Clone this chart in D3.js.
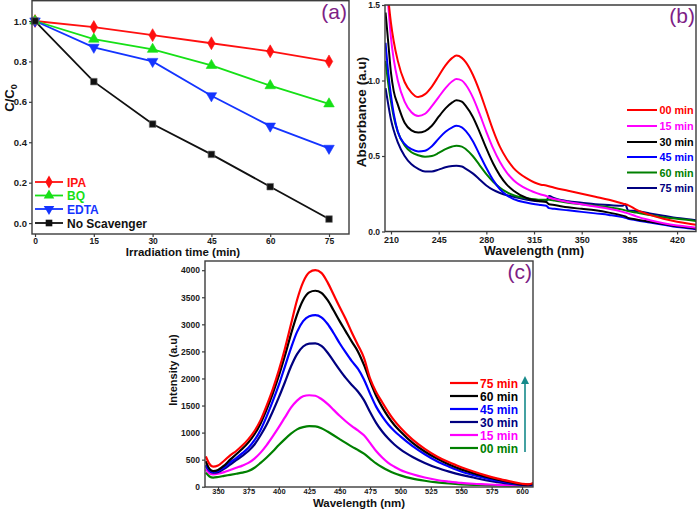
<!DOCTYPE html>
<html><head><meta charset="utf-8">
<script src="https://cdn.jsdelivr.net/npm/d3@7"></script>
<style>body{margin:0;background:#fff}svg{display:block}</style>
</head><body><svg id="chart" width="697" height="510"></svg>
<script>
// ---------- Panel (a) data ----------
const timeA = [0, 15, 30, 45, 60, 75];
const ipa = [1.0, 0.97, 0.93, 0.89, 0.85, 0.80];
const bq = [1.0, 0.91, 0.86, 0.78, 0.68, 0.59];
const edta = [1.0, 0.87, 0.80, 0.63, 0.48, 0.37];
const noScav = [1.0, 0.70, 0.49, 0.34, 0.18, 0.02];
const namesA = ["IPA", "BQ", "EDTA", "No Scavenger"];
const xTicksA = [0, 15, 30, 45, 60, 75];
const yTicksA = [0, 0.2, 0.4, 0.6, 0.8, 1.0];

// ---------- Panel (b) data ----------
const wlB = [206,208,210,212,215,220,225,230,235,240,245,250,255,258,262,265,270,275,280,285,290,295,300,310,320,324,326,330,340,350,360,370,380,382,384,390,400,410,420,430,434];
const abs00 = [1.80,1.55,1.38,1.26,1.13,0.99,0.92,0.89,0.91,0.96,1.03,1.10,1.15,1.165,1.15,1.12,1.04,0.93,0.80,0.67,0.56,0.48,0.42,0.35,0.31,0.305,0.30,0.29,0.27,0.25,0.23,0.21,0.185,0.18,0.175,0.145,0.11,0.085,0.065,0.05,0.045];
const abs15 = [1.75,1.50,1.28,1.14,1.00,0.86,0.79,0.765,0.78,0.83,0.89,0.95,0.995,1.01,1.00,0.97,0.89,0.78,0.66,0.55,0.46,0.39,0.34,0.28,0.245,0.235,0.225,0.215,0.195,0.18,0.165,0.15,0.13,0.125,0.12,0.10,0.075,0.055,0.04,0.03,0.025];
const abs30 = [1.45,1.25,1.05,0.93,0.84,0.72,0.67,0.655,0.665,0.70,0.76,0.815,0.855,0.87,0.86,0.83,0.76,0.66,0.55,0.45,0.37,0.31,0.27,0.22,0.20,0.195,0.18,0.175,0.16,0.15,0.14,0.125,0.105,0.10,0.09,0.08,0.065,0.05,0.035,0.025,0.02];
const abs45 = [1.25,1.05,0.90,0.78,0.66,0.58,0.545,0.53,0.535,0.565,0.615,0.66,0.69,0.70,0.69,0.665,0.60,0.51,0.42,0.34,0.28,0.24,0.215,0.19,0.175,0.17,0.155,0.15,0.14,0.13,0.12,0.11,0.095,0.09,0.085,0.075,0.06,0.045,0.03,0.02,0.015];
const abs60 = [1.13,0.98,0.86,0.76,0.66,0.57,0.525,0.505,0.495,0.50,0.52,0.545,0.563,0.568,0.562,0.545,0.50,0.44,0.38,0.33,0.29,0.26,0.24,0.22,0.21,0.21,0.21,0.205,0.19,0.18,0.17,0.16,0.145,0.14,0.135,0.125,0.11,0.095,0.085,0.075,0.07];
const abs75 = [0.95,0.84,0.74,0.67,0.59,0.50,0.445,0.415,0.398,0.398,0.41,0.425,0.433,0.435,0.43,0.415,0.385,0.345,0.305,0.275,0.255,0.24,0.23,0.21,0.20,0.20,0.235,0.22,0.20,0.19,0.18,0.175,0.17,0.18,0.14,0.135,0.12,0.105,0.09,0.08,0.075];
const namesB = ["00 min", "15 min", "30 min", "45 min", "60 min", "75 min"];
const xTicksB = [210, 245, 280, 315, 350, 385, 420];
const yTicksB = [0, 0.5, 1.0, 1.5];

// ---------- Panel (c) data ----------
const wlC = [340,343,346,350,355,360,365,370,375,380,385,390,395,400,405,410,415,420,425,430,435,440,445,450,455,460,465,470,475,480,485,490,495,500,510,520,530,540,550,560,570,580,590,600,605,610];
const int75 = [560,420,370,390,480,580,660,760,880,1030,1230,1500,1800,2150,2550,3000,3450,3780,3960,4000,3950,3780,3550,3320,3100,2850,2620,2380,2000,1750,1560,1380,1220,1090,870,700,560,450,360,280,210,150,100,55,45,75];
const int60 = [470,330,290,310,390,500,600,700,820,970,1170,1430,1720,2050,2420,2820,3180,3450,3590,3620,3580,3450,3260,3060,2870,2680,2500,2250,1950,1680,1470,1290,1140,1020,810,650,520,410,320,250,185,130,85,45,40,55];
const int45 = [400,300,270,290,360,450,530,620,720,860,1050,1300,1580,1880,2220,2560,2860,3060,3150,3170,3130,3010,2840,2650,2480,2320,2180,1980,1720,1480,1300,1150,1030,930,750,600,470,370,280,215,160,110,70,40,35,45];
const int30 = [380,290,260,270,330,410,490,570,660,780,950,1150,1390,1650,1930,2220,2450,2590,2645,2650,2600,2480,2320,2160,2010,1880,1760,1600,1380,1180,1020,890,780,690,550,440,350,280,220,170,120,85,55,35,30,40];
const int15 = [320,250,230,240,270,310,350,390,440,520,630,770,930,1100,1280,1460,1590,1670,1690,1680,1620,1530,1420,1310,1210,1120,1040,950,810,660,540,440,370,310,230,170,125,95,70,55,45,35,30,25,25,30];
const int00 = [260,190,170,180,200,220,240,260,290,350,440,540,650,770,880,980,1060,1100,1120,1115,1080,1020,950,880,810,740,680,610,520,430,360,300,250,210,150,110,80,60,45,35,30,25,20,20,20,25];
const namesC = ["75 min", "60 min", "45 min", "30 min", "15 min", "00 min"];
const xTicksC = [350, 375, 400, 425, 450, 475, 500, 525, 550, 575, 600];
const yTicksC = [0, 500, 1000, 1500, 2000, 2500, 3000, 3500, 4000];

// ---------- drawing ----------
const FONT = '"Liberation Sans", Arial, Helvetica, sans-serif';
const FRAME = "#3c3c3c";
const PURPLE = "#7d2185";
const svg = d3.select("#chart");
svg.append("rect").attr("width", 697).attr("height", 510).attr("fill", "#fff");
const defs = svg.append("defs");

function clip(id, x0, y0, x1, y1) {
  defs.append("clipPath").attr("id", id).append("rect")
    .attr("x", x0).attr("y", y0).attr("width", x1 - x0).attr("height", y1 - y0);
}
function frame(x0, y0, x1, y1) {
  svg.append("rect").attr("x", x0).attr("y", y0).attr("width", x1 - x0).attr("height", y1 - y0)
    .attr("fill", "none").attr("stroke", FRAME).attr("stroke-width", 1.4);
}
function styleAxis(g, fs) {
  g.select(".domain").remove();
  g.selectAll("line").attr("stroke", FRAME).attr("stroke-width", 1.2);
  g.selectAll("text").attr("font-family", FONT).attr("font-weight", "bold")
    .attr("font-size", fs).attr("fill", "#1a1a1a");
}
function label(x, y, txt, opts) {
  const t = svg.append("text").attr("x", x).attr("y", y).text(txt)
    .attr("font-family", FONT).attr("font-weight", opts.weight || "bold")
    .attr("font-size", opts.size).attr("fill", opts.fill || "#111")
    .attr("text-anchor", opts.anchor || "start");
  if (opts.rotate) t.attr("transform", `rotate(-90,${x},${y})`);
  return t;
}

// ===== Panel (a) =====
const xA = d3.scaleLinear().domain([-0.77, 80.1]).range([32, 349]);
const yA = d3.scaleLinear().domain([-0.054, 1.099]).range([234, 1]);
const seriesA = [
  { name: namesA[0], vals: ipa, color: "#ff1010", sym: d3.symbolDiamond, size: 48, rot: 0 },
  { name: namesA[1], vals: bq, color: "#16e016", sym: d3.symbolTriangle, size: 48, rot: 0 },
  { name: namesA[2], vals: edta, color: "#1434ff", sym: d3.symbolTriangle, size: 48, rot: 180 },
  { name: namesA[3], vals: noScav, color: "#111111", sym: d3.symbolSquare, size: 44, rot: 0 }
];
const lineA = d3.line().x((d, i) => xA(timeA[i])).y(d => yA(d));
seriesA.forEach(s => {
  svg.append("path").datum(s.vals).attr("d", lineA).attr("fill", "none")
    .attr("stroke", s.color).attr("stroke-width", 1.8);
});
seriesA.forEach(s => {
  svg.append("g").selectAll("path").data(s.vals).join("path")
    .attr("d", d3.symbol().type(s.sym).size(s.size))
    .attr("transform", (d, i) => `translate(${xA(timeA[i])},${yA(d)}) rotate(${s.rot})`)
    .attr("fill", s.color).attr("stroke", s.color === "#111111" ? "#777" : s.color).attr("stroke-width", 0.6);
});
frame(32, 0.7, 349, 234);
styleAxis(svg.append("g").attr("transform", "translate(32,0)")
  .call(d3.axisLeft(yA).tickValues(yTicksA).tickFormat(d3.format(".1f")).tickSize(3).tickPadding(2)), "9.5px");
styleAxis(svg.append("g").attr("transform", "translate(0,234)")
  .call(d3.axisBottom(xA).tickValues(xTicksA).tickFormat(d3.format("d")).tickSize(3).tickPadding(1)), "8.5px");
label(183, 256, "Irradiation time (min)", { size: "11.5px", anchor: "middle" });
{
  const t = svg.append("text").attr("transform", "translate(14,98) rotate(-90)")
    .attr("text-anchor", "middle").attr("font-family", FONT).attr("font-weight", "bold")
    .attr("font-size", "13px").attr("fill", "#111");
  t.append("tspan").text("C/C");
  t.append("tspan").text("0").attr("font-size", "9px").attr("dy", 3);
}
label(347, 19, "(a)", { size: "21px", weight: "normal", fill: PURPLE, anchor: "end" });
// legend (a)
const legYA = [182, 195.5, 209, 223];
seriesA.forEach((s, i) => {
  svg.append("line").attr("x1", 35).attr("x2", 63).attr("y1", legYA[i]).attr("y2", legYA[i])
    .attr("stroke", s.color).attr("stroke-width", 1.8);
  svg.append("path").attr("d", d3.symbol().type(s.sym).size(s.size)())
    .attr("transform", `translate(49,${legYA[i]}) rotate(${s.rot})`).attr("fill", s.color);
  label(67, legYA[i] + 4.5, s.name, { size: "12px", fill: s.color });
});

// ===== Panel (b) =====
const xB = d3.scaleLinear().domain([205.6, 433.9]).range([385, 696]);
const yB = d3.scaleLinear().domain([0, 1.5]).range([231.5, 5]);
clip("clipB", 385, 5, 696, 231.5);
const seriesB = [
  { vals: abs00, color: "#ff0000" },
  { vals: abs15, color: "#ff00ff" },
  { vals: abs30, color: "#000000" },
  { vals: abs45, color: "#0000ff" },
  { vals: abs60, color: "#008000" },
  { vals: abs75, color: "#000080" }
];
const lineB = d3.line().x((d, i) => xB(wlB[i])).y(d => yB(d)).curve(d3.curveMonotoneX);
const gB = svg.append("g").attr("clip-path", "url(#clipB)");
seriesB.slice().reverse().forEach(s => {
  gB.append("path").datum(s.vals).attr("d", lineB).attr("fill", "none")
    .attr("stroke", s.color).attr("stroke-width", 2);
});
svg.append("path").attr("d", "M385,231.5 L385,5 L696,5 L696,231.5 Z")
  .attr("fill", "none").attr("stroke", FRAME).attr("stroke-width", 1.4);
styleAxis(svg.append("g").attr("transform", "translate(385,0)")
  .call(d3.axisLeft(yB).tickValues(yTicksB).tickFormat(d3.format(".1f")).tickSize(3).tickPadding(2)), "8.5px");
styleAxis(svg.append("g").attr("transform", "translate(0,231.5)")
  .call(d3.axisBottom(xB).tickValues(xTicksB).tickFormat(d3.format("d")).tickSize(3).tickPadding(2)), "9px");
label(534, 255, "Wavelength (nm)", { size: "12.5px", anchor: "middle" });
label(366, 112, "Absorbance (a.u)", { size: "13.5px", anchor: "middle", rotate: true });
label(695, 23, "(b)", { size: "21px", weight: "normal", fill: PURPLE, anchor: "end" });
const legYB = [110, 126, 142, 157, 172.5, 188];
seriesB.forEach((s, i) => {
  svg.append("line").attr("x1", 627).attr("x2", 657).attr("y1", legYB[i]).attr("y2", legYB[i])
    .attr("stroke", s.color).attr("stroke-width", 2);
  label(659.5, legYB[i] + 4, namesB[i], { size: "10.8px", fill: s.color });
});

// ===== Panel (c) =====
const xC = d3.scaleLinear().domain([339.3, 609]).range([205, 533]);
const yC = d3.scaleLinear().domain([-5, 4170]).range([487, 261]);
clip("clipC", 205, 261, 533, 487);
const seriesC = [
  { vals: int75, color: "#ff0000" },
  { vals: int60, color: "#000000" },
  { vals: int45, color: "#0000ff" },
  { vals: int30, color: "#000080" },
  { vals: int15, color: "#ff00ff" },
  { vals: int00, color: "#008000" }
];
const lineC = d3.line().x((d, i) => xC(wlC[i])).y(d => yC(d)).curve(d3.curveMonotoneX);
const gC = svg.append("g").attr("clip-path", "url(#clipC)");
seriesC.slice().reverse().forEach(s => {
  gC.append("path").datum(s.vals).attr("d", lineC).attr("fill", "none")
    .attr("stroke", s.color).attr("stroke-width", 2.2);
});
frame(205, 261, 533, 487);
styleAxis(svg.append("g").attr("transform", "translate(205,0)")
  .call(d3.axisLeft(yC).tickValues(yTicksC).tickFormat(d3.format("d")).tickSize(3).tickPadding(2)), "8.5px");
styleAxis(svg.append("g").attr("transform", "translate(0,487)")
  .call(d3.axisBottom(xC).tickValues(xTicksC).tickFormat(d3.format("d")).tickSize(2).tickPadding(0)), "7.5px");
label(359, 507.3, "Wavelength (nm)", { size: "11.5px", anchor: "middle" });
label(177, 370, "Intensity (a.u)", { size: "11px", anchor: "middle", rotate: true });
label(532, 279, "(c)", { size: "21px", weight: "normal", fill: PURPLE, anchor: "end" });
const legYC = [383, 396, 409, 422, 435, 448];
seriesC.forEach((s, i) => {
  svg.append("line").attr("x1", 450).attr("x2", 478).attr("y1", legYC[i]).attr("y2", legYC[i])
    .attr("stroke", s.color).attr("stroke-width", 2.2);
  label(480, legYC[i] + 4.5, namesC[i], { size: "12px", fill: s.color });
});
// arrow
svg.append("line").attr("x1", 525).attr("x2", 525).attr("y1", 452).attr("y2", 382)
  .attr("stroke", "#168a8a").attr("stroke-width", 1.6);
svg.append("path").attr("d", "M521,384 L529,384 L525,376 Z").attr("fill", "#168a8a");
</script>
</body></html>
